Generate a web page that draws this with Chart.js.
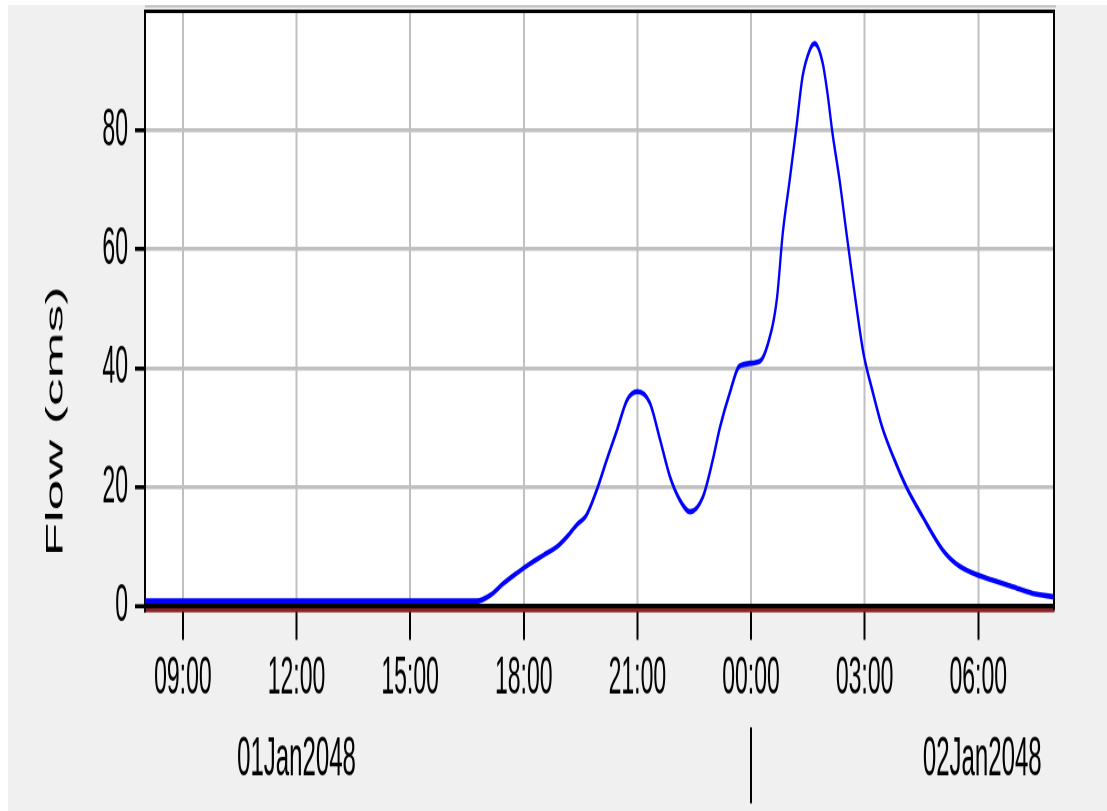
<!DOCTYPE html>
<html>
<head>
<meta charset="utf-8">
<script src="https://cdn.jsdelivr.net/npm/chart.js@4"></script>
<style>
  html, body { margin: 0; padding: 0; background: #fff; }
  #flowChart { position: absolute; left: 8px; top: 5px; background: #f0f0f0; }
</style>
</head>
<body>
<!-- the source picture is stretched vertically, so the canvas is too -->
<canvas id="flowChart" width="1099" height="350" style="width:1099px;height:806px"></canvas>
<script>
// hours counted from 01Jan2048 00:00
const flowHours = [8, 16.77, 17.12, 17.47, 17.82, 18.17, 18.52, 18.87, 19.14, 19.40,
  19.66, 19.93, 20.19, 20.46, 20.73, 21.00, 21.33, 21.60, 21.86, 22.12,
  22.39, 22.73, 22.99, 23.18, 23.44, 23.70, 24.23, 24.44, 24.68, 24.84,
  25.02, 25.20, 25.36, 25.55, 25.68, 25.89, 26.02, 26.15, 26.34, 26.52,
  26.76, 26.97, 27.20, 27.46, 27.79, 28.10, 28.53, 29.06, 29.41, 29.85,
  30.38, 30.91, 31.43, 32];
const flowCms = [0.9, 0.9, 1.9, 3.9, 5.6, 7.2, 8.6, 10.0, 11.7, 13.7,
  15.4, 19.6, 24.6, 29.6, 34.7, 36.1, 34.2, 28.0, 21.8, 17.9,
  15.9, 18.4, 24.6, 30.1, 35.9, 40.4, 41.2, 44.0, 51.5, 62.8,
  71.6, 80.6, 89.0, 93.5, 94.6, 91.4, 86.2, 79.6, 71.6, 62.8,
  51.5, 42.5, 36.4, 30.2, 24.6, 20.1, 15.1, 9.5, 7.2, 5.6,
  4.4, 3.3, 2.2, 1.6];

const timeTicks = [9, 12, 15, 18, 21, 24, 27, 30];
const yTicks = [0, 10, 20, 30, 40, 50, 60, 70, 80, 90, 100];
const yLabels = [0, 20, 40, 60, 80];
const dateLabels = ['01Jan2048', '02Jan2048'];
const dateLabelHours = [12, 30];
const dayBreaks = [24];

const FONT = '"Liberation Sans", Arial, sans-serif';

const pad2 = n => (n < 10 ? '0' : '') + n;

const frame = {
  id: 'frame',
  beforeDraw(chart) {
    const { ctx, chartArea: a } = chart;
    ctx.save();
    ctx.fillStyle = '#fff';
    ctx.fillRect(a.left, a.top, a.right - a.left, a.bottom - a.top);
    ctx.restore();
  },
  afterDraw(chart) {
    const { ctx, chartArea: a, scales } = chart;
    ctx.save();
    // plot frame: top and right edges
    ctx.strokeStyle = '#000';
    ctx.lineWidth = 1.5;
    ctx.beginPath();
    ctx.moveTo(a.left, a.top);
    ctx.lineTo(a.right + 1, a.top);
    ctx.stroke();
    ctx.lineWidth = 2;
    ctx.beginPath();
    ctx.moveTo(a.right, a.top);
    ctx.lineTo(a.right, a.bottom);
    ctx.stroke();
    ctx.strokeStyle = '#c0c0c0';
    ctx.lineWidth = 1;
    ctx.beginPath();
    ctx.moveTo(a.left, 0.6);
    ctx.lineTo(a.right + 2, 0.6);
    ctx.stroke();

    // day row under the hours
    ctx.font = '24px ' + FONT;
    ctx.fillStyle = '#000';
    ctx.textAlign = 'center';
    ctx.textBaseline = 'middle';
    dateLabels.forEach((d, i) => {
      ctx.fillText(d, scales.x.getPixelForValue(dateLabelHours[i]) + (i ? 4 : 0), a.bottom + 65);
    });
    ctx.strokeStyle = '#000';
    ctx.lineWidth = 2;
    dayBreaks.forEach(h => {
      const x = scales.x.getPixelForValue(h);
      ctx.beginPath();
      ctx.moveTo(x, a.bottom + 51);
      ctx.lineTo(x, a.bottom + 84);
      ctx.stroke();
    });

    // y title sits low, as in the original
    ctx.translate(48, a.top + 178);
    ctx.rotate(-Math.PI / 2);
    ctx.fillText('Flow (cms)', 0, 0);
    ctx.restore();
  }
};

new Chart(document.getElementById('flowChart'), {
  type: 'line',
  data: {
    datasets: [{
      label: 'Flow',
      data: flowHours.map((h, i) => ({ x: h, y: flowCms[i] })),
      borderColor: '#0000ff',
      borderWidth: 2.3,
      pointRadius: 0,
      cubicInterpolationMode: 'monotone',
      fill: false
    }]
  },
  options: {
    responsive: false,
    devicePixelRatio: 2,
    animation: false,
    events: [],
    layout: { padding: { top: 2.8, right: 53, left: 0, bottom: 0 } },
    plugins: { legend: { display: false }, tooltip: { enabled: false } },
    scales: {
      // thin axis whose only job is the red dashed edge under the plot
      edge: {
        type: 'linear',
        position: 'bottom',
        weight: 0,
        min: 8,
        max: 32,
        afterFit: s => { s.height = 0; },
        ticks: { display: false },
        grid: { display: false },
        border: { display: true, color: '#8b2323', width: 1.7, dash: [19, 6] }
      },
      x: {
        type: 'linear',
        position: 'bottom',
        weight: 1,
        min: 8,
        max: 32,
        afterBuildTicks: s => { s.ticks = timeTicks.map(v => ({ value: v })); },
        afterFit: s => { s.height = 87.3; },
        ticks: {
          autoSkip: false,
          maxRotation: 0,
          padding: 3,
          color: '#000',
          font: { family: FONT, size: 23 },
          callback: v => pad2(v % 24) + ':00'
        },
        grid: {
          color: '#c0c0c0',
          lineWidth: 2,
          tickColor: '#000',
          tickWidth: 2,
          tickLength: 13
        },
        border: { display: false }
      },
      y: {
        type: 'linear',
        min: -0.6,
        max: 100,
        afterBuildTicks: s => { s.ticks = yTicks.map(v => ({ value: v })); },
        afterFit: s => { s.width = 137; s.paddingTop = 0; s.paddingBottom = 0; },
        ticks: {
          padding: 7,
          color: '#000',
          font: { family: FONT, size: 23 },
          callback: v => (yLabels.includes(v) ? String(v) : null)
        },
        grid: {
          color: c => (c.tick && c.tick.value === 0 ? '#000' : '#c0c0c0'),
          lineWidth: c => (c.tick && c.tick.value === 0 ? 2.2 : 1.8),
          tickColor: '#000',
          tickWidth: 1.8,
          tickLength: 10
        },
        border: { display: true, color: '#000', width: 2 }
      }
    }
  },
  plugins: [frame]
});
</script>
</body>
</html>
